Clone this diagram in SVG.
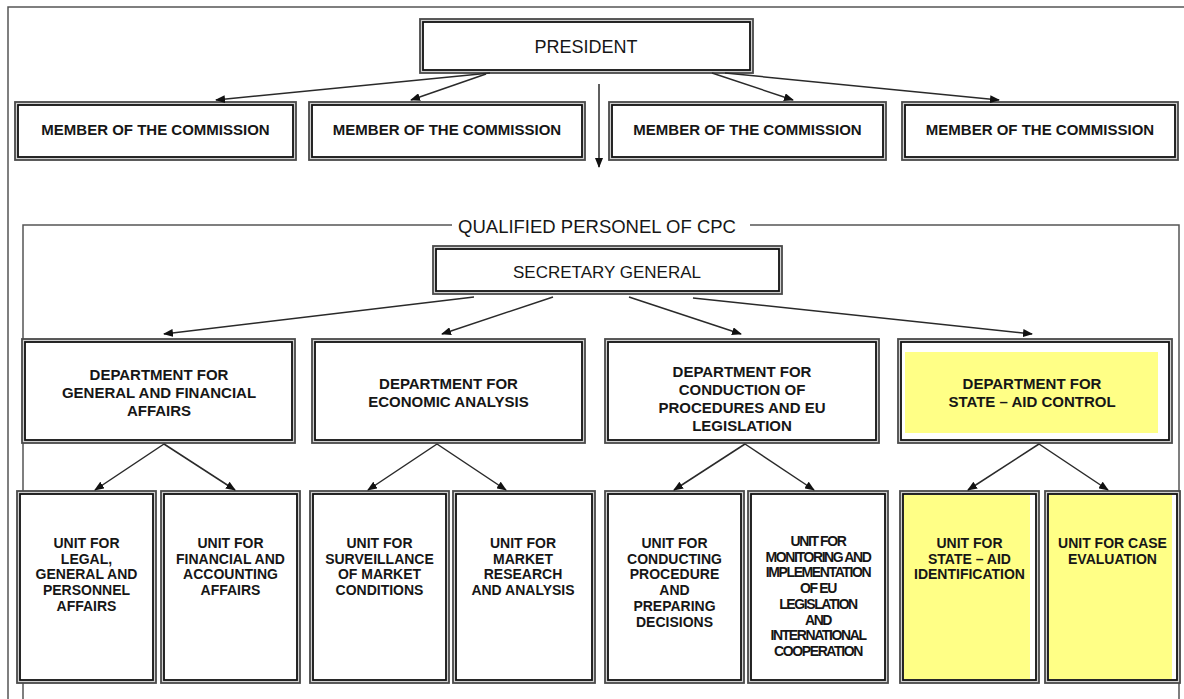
<svg xmlns="http://www.w3.org/2000/svg" width="1184" height="699" viewBox="0 0 1184 699">
<style>
.bo{fill:#d0d0d0;stroke:#4a4a4a;stroke-width:1.8}
.bi{fill:#fff;stroke:#111;stroke-width:1.8}
.by{fill:#ffff86}
.t{font-family:"Liberation Sans",Arial,sans-serif;fill:#161616;text-anchor:middle}
.reg{font-size:18px}
.b15{font-size:15px;font-weight:bold}
.u{font-size:14px;font-weight:bold}
.u6{font-size:14px;font-weight:bold;letter-spacing:-1.4px}
.conn{stroke:#2a2a2a;stroke-width:1.5;fill:none;marker-end:url(#ah)}
.frame{stroke:#555;stroke-width:1.5;fill:none}
</style>
<defs>
<marker id="ah" markerWidth="10" markerHeight="8" refX="9" refY="4" orient="auto" markerUnits="userSpaceOnUse">
<path d="M0,0 L10,4 L0,8 z" fill="#111"/>
</marker>
</defs>
<rect width="1184" height="699" fill="#fff"/>
<g id="frames">
<path class="frame" d="M8,699 V7 H1184"/>
<path class="frame" d="M23,699 V225 H452 M750,225 H1179 V699"/>
<text class="t" x="597" y="233" style="font-size:18.5px">QUALIFIED PERSONEL OF CPC</text>
</g>
<g id="president">
<rect class="bo" x="420" y="19" width="333" height="54"/><rect class="bi" x="423" y="22" width="327" height="48"/>
<text class="t reg" x="586" y="53">PRESIDENT</text>
</g>
<g id="member1">
<rect class="bo" x="15" y="102" width="281" height="58"/><rect class="bi" x="18" y="105" width="275" height="52"/>
<text class="t b15" x="155.5" y="135">MEMBER OF THE COMMISSION</text>
</g>
<g id="member2">
<rect class="bo" x="309" y="102" width="276" height="58"/><rect class="bi" x="312" y="105" width="270" height="52"/>
<text class="t b15" x="447" y="135">MEMBER OF THE COMMISSION</text>
</g>
<g id="member3">
<rect class="bo" x="609" y="102" width="277" height="58"/><rect class="bi" x="612" y="105" width="271" height="52"/>
<text class="t b15" x="747.5" y="135">MEMBER OF THE COMMISSION</text>
</g>
<g id="member4">
<rect class="bo" x="902" y="102" width="276" height="58"/><rect class="bi" x="905" y="105" width="270" height="52"/>
<text class="t b15" x="1040" y="135">MEMBER OF THE COMMISSION</text>
</g>
<g id="secretary">
<rect class="bo" x="433" y="246" width="349" height="48"/><rect class="bi" x="436" y="249" width="343" height="42"/>
<text class="t" x="607" y="278" style="font-size:17px">SECRETARY GENERAL</text>
</g>
<g id="dept1">
<rect class="bo" x="22" y="339" width="273" height="104"/><rect class="bi" x="25" y="342" width="267" height="98"/>
<text class="t b15" x="159" y="380">DEPARTMENT FOR</text>
<text class="t b15" x="159" y="398">GENERAL AND FINANCIAL</text>
<text class="t b15" x="159" y="416">AFFAIRS</text>
</g>
<g id="dept2">
<rect class="bo" x="312" y="339" width="273" height="104"/><rect class="bi" x="315" y="342" width="267" height="98"/>
<text class="t b15" x="448.5" y="389">DEPARTMENT FOR</text>
<text class="t b15" x="448.5" y="407">ECONOMIC ANALYSIS</text>
</g>
<g id="dept3">
<rect class="bo" x="605" y="339" width="274" height="104"/><rect class="bi" x="608" y="342" width="268" height="98"/>
<text class="t b15" x="742" y="377">DEPARTMENT FOR</text>
<text class="t b15" x="742" y="395">CONDUCTION OF</text>
<text class="t b15" x="742" y="413">PROCEDURES AND EU</text>
<text class="t b15" x="742" y="431">LEGISLATION</text>
</g>
<g id="dept4">
<rect class="bo" x="898" y="339" width="274" height="104"/><rect class="bi" x="901" y="342" width="268" height="98"/>
<rect class="by" x="905" y="352" width="253" height="81"/>
<text class="t b15" x="1032" y="389">DEPARTMENT FOR</text>
<text class="t b15" x="1032" y="407">STATE – AID CONTROL</text>
</g>
<g id="unit1">
<rect class="bo" x="17" y="491" width="139" height="192"/><rect class="bi" x="20" y="494" width="133" height="186"/>
<text class="t u" x="86.5" y="548">UNIT FOR</text>
<text class="t u" x="86.5" y="563.7">LEGAL,</text>
<text class="t u" x="86.5" y="579.4">GENERAL AND</text>
<text class="t u" x="86.5" y="595.1">PERSONNEL</text>
<text class="t u" x="86.5" y="610.8">AFFAIRS</text>
</g>
<g id="unit2">
<rect class="bo" x="161" y="491" width="139" height="192"/><rect class="bi" x="164" y="494" width="133" height="186"/>
<text class="t u" x="230.5" y="548">UNIT FOR</text>
<text class="t u" x="230.5" y="563.7">FINANCIAL AND</text>
<text class="t u" x="230.5" y="579.4">ACCOUNTING</text>
<text class="t u" x="230.5" y="595.1">AFFAIRS</text>
</g>
<g id="unit3">
<rect class="bo" x="310" y="491" width="139" height="192"/><rect class="bi" x="313" y="494" width="133" height="186"/>
<text class="t u" x="379.5" y="548">UNIT FOR</text>
<text class="t u" x="379.5" y="563.7">SURVEILLANCE</text>
<text class="t u" x="379.5" y="579.4">OF MARKET</text>
<text class="t u" x="379.5" y="595.1">CONDITIONS</text>
</g>
<g id="unit4">
<rect class="bo" x="453" y="491" width="142" height="192"/><rect class="bi" x="456" y="494" width="136" height="186"/>
<text class="t u" x="523" y="548">UNIT FOR</text>
<text class="t u" x="523" y="563.7">MARKET</text>
<text class="t u" x="523" y="579.4">RESEARCH</text>
<text class="t u" x="523" y="595.1">AND ANALYSIS</text>
</g>
<g id="unit5">
<rect class="bo" x="605" y="491" width="139" height="192"/><rect class="bi" x="608" y="494" width="133" height="186"/>
<text class="t u" x="674.5" y="548">UNIT FOR</text>
<text class="t u" x="674.5" y="563.7">CONDUCTING</text>
<text class="t u" x="674.5" y="579.4">PROCEDURE</text>
<text class="t u" x="674.5" y="595.1">AND</text>
<text class="t u" x="674.5" y="610.8">PREPARING</text>
<text class="t u" x="674.5" y="626.5">DECISIONS</text>
</g>
<g id="unit6">
<rect class="bo" x="748" y="491" width="140" height="192"/><rect class="bi" x="751" y="494" width="134" height="186"/>
<text class="t u6" x="818" y="546">UNIT FOR</text>
<text class="t u6" x="818" y="561.7">MONITORING AND</text>
<text class="t u6" x="818" y="577.4">IMPLEMENTATION</text>
<text class="t u6" x="818" y="593.1">OF EU</text>
<text class="t u6" x="818" y="608.8">LEGISLATION</text>
<text class="t u6" x="818" y="624.5">AND</text>
<text class="t u6" x="818" y="640.2">INTERNATIONAL</text>
<text class="t u6" x="818" y="655.9">COOPERATION</text>
</g>
<g id="unit7">
<rect class="bo" x="900" y="491" width="139" height="192"/><rect class="bi" x="903" y="494" width="133" height="186"/>
<rect class="by" x="904" y="495" width="126" height="184"/>
<text class="t u" x="969.5" y="548">UNIT FOR</text>
<text class="t u" x="969.5" y="563.7">STATE – AID</text>
<text class="t u" x="969.5" y="579.4">IDENTIFICATION</text>
</g>
<g id="unit8">
<rect class="bo" x="1045" y="491" width="135" height="192"/><rect class="bi" x="1048" y="494" width="129" height="186"/>
<rect class="by" x="1049" y="495" width="123" height="184"/>
<text class="t u" x="1112.5" y="548">UNIT FOR CASE</text>
<text class="t u" x="1112.5" y="563.7">EVALUATION</text>
</g>
<g id="connectors">
<line class="conn" x1="599" y1="84" x2="599" y2="167"/>
<line class="conn" x1="490" y1="73" x2="216" y2="100"/>
<line class="conn" x1="486" y1="74" x2="411" y2="100"/>
<line class="conn" x1="712" y1="73" x2="793" y2="100"/>
<line class="conn" x1="725" y1="73" x2="999" y2="100"/>
<line class="conn" x1="474" y1="297" x2="164" y2="334"/>
<line class="conn" x1="553" y1="297" x2="442" y2="334"/>
<line class="conn" x1="629" y1="297" x2="741" y2="334"/>
<line class="conn" x1="693" y1="298" x2="1032" y2="334"/>
<line class="conn" x1="164" y1="444" x2="95" y2="490"/>
<line class="conn" x1="164" y1="444" x2="235" y2="490"/>
<line class="conn" x1="437" y1="444" x2="368" y2="490"/>
<line class="conn" x1="437" y1="444" x2="506" y2="490"/>
<line class="conn" x1="745" y1="444" x2="674" y2="490"/>
<line class="conn" x1="745" y1="444" x2="814" y2="490"/>
<line class="conn" x1="1039" y1="444" x2="968" y2="490"/>
<line class="conn" x1="1039" y1="444" x2="1108" y2="490"/>
</g>
</svg>
